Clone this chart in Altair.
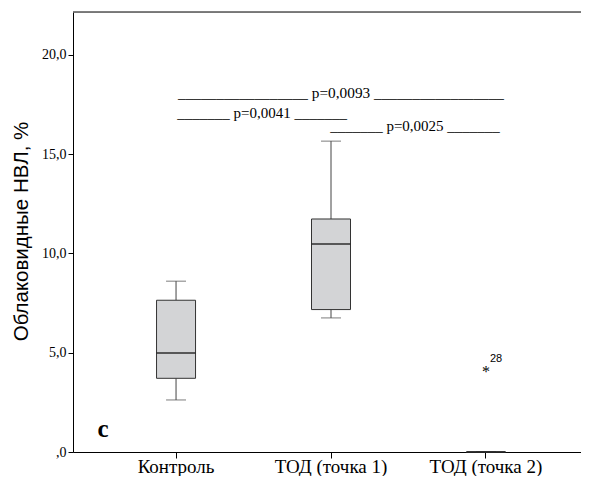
import altair as alt
import pandas as pd

groups = ["Контроль", "ТОД (точка 1)", "ТОД (точка 2)"]
lo = [2.62, 6.75, 0.0]
q1 = [3.71, 7.17, 0.0]
med = [4.98, 10.47, 0.0]
q3 = [7.64, 11.73, 0.0]
hi = [8.60, 15.65, 0.0]

outlier_group = ["ТОД (точка 2)"]
outlier_value = [4.21]
outlier_label = ["28"]

ann_text = [
    "_________________ p=0,0093 _________________",
    "_______ p=0,0041 _______",
    "_______ p=0,0025 _______",
]
ann_group = ["ТОД (точка 1)", "Контроль", "ТОД (точка 1)"]
ann_dx = [10, 86, 84]
ann_y = [17.8, 16.8, 16.15]
ann_size = [15.3, 15, 15]

ymax = 22.15

df = pd.DataFrame({"g": groups, "lo": lo, "q1": q1, "med": med, "q3": q3, "hi": hi})
dout = pd.DataFrame({"g": outlier_group, "v": outlier_value, "lab": outlier_label})
dann = pd.DataFrame({"g": ann_group, "t": ann_text, "y": ann_y})

serif = "Liberation Serif"
xs = alt.Scale(domain=groups, paddingInner=0, paddingOuter=0.165, range=[0, 516])
ys = alt.Scale(domain=[0, ymax], nice=False, zero=True)

X = alt.X("g:N", scale=xs, sort=groups, title=None,
          axis=alt.Axis(labelAngle=0, labelFont=serif, labelFontSize=19, labelColor="#000",
                        labelBaseline="alphabetic",
                        domainColor="#000", tickColor="#000", tickSize=6, labelPadding=14,
                        domainWidth=1))
Y = alt.Y("lo:Q", scale=ys, title="Облаковидные НВЛ, %",
          axis=alt.Axis(values=[0, 5, 10, 15, 20],
                        labelExpr="datum.value == 0 ? ',0' : replace(format(datum.value, '.1f'), '.', ',')",
                        labelFont=serif, labelFontSize=14, labelColor="#000", grid=False,
                        domainColor="#000", tickColor="#000", tickSize=5, labelPadding=2,
                        titleFont="Liberation Sans", titleFontSize=20.5, titleFontWeight="normal",
                        titleColor="#000", titleX=-52, titleY=219, titleBaseline="middle"))

base = alt.Chart(df)

whisk_up = base.mark_rule(color="#444", strokeWidth=1).encode(x=X, y=alt.Y("q3:Q", scale=ys), y2="hi:Q")
whisk_dn = base.mark_rule(color="#444", strokeWidth=1).encode(x=X, y=Y, y2="q1:Q")
cap_hi = base.mark_tick(color="#444", size=20, thickness=1).encode(x=X, y=alt.Y("hi:Q", scale=ys))
cap_lo = base.mark_tick(color="#444", size=20, thickness=1).encode(x=X, y=alt.Y("lo:Q", scale=ys))
box = base.mark_bar(size=39, fill="#d3d4d6", stroke="#333", strokeWidth=1).encode(
    x=X, y=alt.Y("q1:Q", scale=ys), y2="q3:Q")
median = base.mark_tick(color="#222", size=39, thickness=2).encode(x=X, y=alt.Y("med:Q", scale=ys))

star = alt.Chart(dout).mark_text(text="*", font=serif, fontSize=16, baseline="middle", dy=4, color="#000").encode(
    x=alt.X("g:N", scale=xs, sort=groups), y=alt.Y("v:Q", scale=ys))
star_lab = alt.Chart(dout).mark_text(font="Liberation Sans", fontSize=11, align="left", dx=4, dy=-9,
                                      color="#000").encode(
    x=alt.X("g:N", scale=xs, sort=groups), y=alt.Y("v:Q", scale=ys), text="lab:N")

ann_layers = []
for i in range(len(ann_text)):
    d = dann.iloc[[i]]
    ann_layers.append(
        alt.Chart(d).mark_text(font=serif, fontSize=ann_size[i], baseline="alphabetic", dx=ann_dx[i],
                               color="#000").encode(
            x=alt.X("g:N", scale=xs, sort=groups), y=alt.Y("y:Q", scale=ys), text="t:N"))

letter = alt.Chart(pd.DataFrame({"g": ["Контроль"], "y": [0.75], "t": ["c"]})).mark_text(
    font=serif, fontSize=25, fontWeight="bold", dx=-73, color="#000", baseline="alphabetic").encode(
    x=alt.X("g:N", scale=xs, sort=groups), y=alt.Y("y:Q", scale=ys), text="t:N")

top = alt.Chart(pd.DataFrame({"y": [ymax]})).mark_rule(color="#555", strokeWidth=1.5).encode(
    y=alt.Y("y:Q", scale=ys), x=alt.value(0), x2=alt.value(516))

chart = alt.layer(
    whisk_up, whisk_dn, cap_hi, cap_lo, box, median, star, star_lab, *ann_layers, letter, top
).properties(
    width=508, height=440,
    autosize=alt.AutoSizeParams(type="none"),
    padding={"left": 65, "top": 4, "right": 0, "bottom": 24},
).configure_view(stroke=None).configure(background="#fff")

chart.save("out.html", embed_options={"renderer": "svg", "actions": False})
